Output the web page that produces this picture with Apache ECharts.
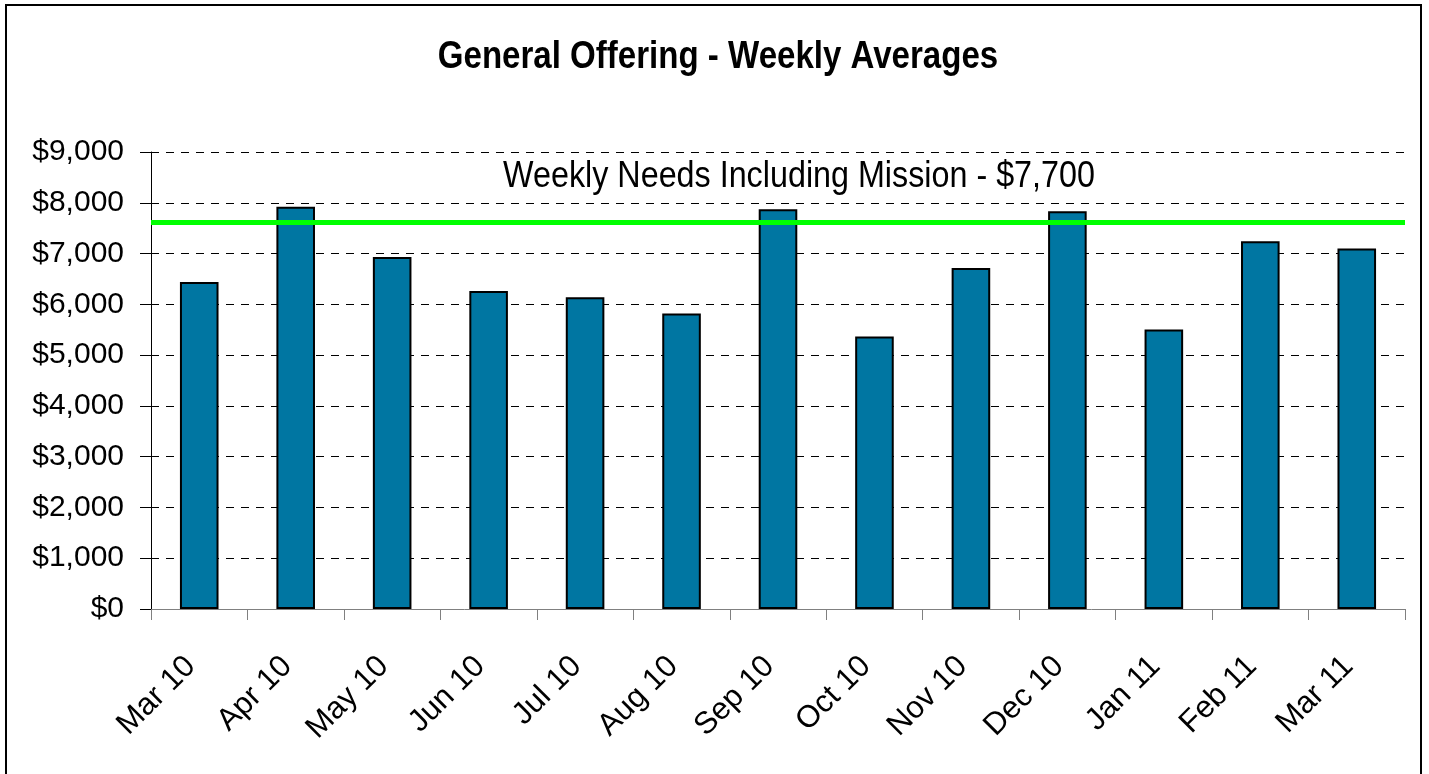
<!DOCTYPE html>
<html>
<head>
<meta charset="utf-8">
<script src="https://cdn.jsdelivr.net/npm/echarts@6/dist/echarts.min.js"></script>
<style>
  html, body { margin: 0; padding: 0; background: #fff; }
  #chart { width: 1429px; height: 774px; }
</style>
</head>
<body>
<div id="chart"></div>
<script>
// ---- Data ----
const chartTitle = 'General Offering - Weekly Averages';
const needsLabel = 'Weekly Needs Including Mission - $7,700';
const categories = ['Mar 10', 'Apr 10', 'May 10', 'Jun 10', 'Jul 10', 'Aug 10', 'Sep 10',
                    'Oct 10', 'Nov 10', 'Dec 10', 'Jan 11', 'Feb 11', 'Mar 11'];
const weeklyAverages = [6440, 7920, 6930, 6265, 6140, 5820, 7875, 5365, 6715, 7835, 5505, 7240, 7100];
const weeklyNeedsLevel = 7615;
const yMin = 0, yMax = 9000, yStep = 1000;

const chart = echarts.init(document.getElementById('chart'), null, { renderer: 'canvas' });
const sans = '"Liberation Sans", Arial, sans-serif';

chart.setOption({
  animation: false,
  backgroundColor: '#ffffff',
  graphic: [
    {
      type: 'rect', silent: true, z: 100,
      shape: { x: 6, y: 5, width: 1415, height: 800 },
      style: { fill: 'none', stroke: '#000', lineWidth: 2 }
    },
    {
      type: 'text', silent: true, z: 100,
      x: 718, y: 58, scaleX: 0.87, scaleY: 1,
      style: {
        text: chartTitle, x: 0, y: 0,
        textAlign: 'center', textVerticalAlign: 'middle',
        font: 'bold 38px "Liberation Sans", Arial, sans-serif', fill: '#000'
      }
    },
    {
      type: 'text', silent: true, z: 100,
      x: 799, y: 177, scaleX: 0.873, scaleY: 1,
      style: {
        text: needsLabel, x: 0, y: 0,
        textAlign: 'center', textVerticalAlign: 'middle',
        font: 'normal 37px "Liberation Sans", Arial, sans-serif', fill: '#000'
      }
    }
  ],
  grid: { left: 151, right: 24, top: 152, bottom: 165, containLabel: false },
  xAxis: {
    type: 'category',
    data: categories,
    boundaryGap: true,
    axisLine: { show: true, lineStyle: { color: '#808080', width: 1 } },
    axisTick: { show: true, alignWithLabel: false, length: 11, lineStyle: { color: '#808080', width: 1 } },
    axisLabel: {
      rotate: 45, margin: 44, interval: 0, padding: [0, 12, 0, 0],
      fontFamily: sans, fontSize: 31, color: '#000'
    },
    splitLine: { show: false }
  },
  yAxis: {
    type: 'value',
    min: yMin, max: yMax, interval: yStep,
    axisLine: { show: true, lineStyle: { color: '#000', width: 1 } },
    axisTick: { show: true, length: 11, lineStyle: { color: '#000', width: 1 } },
    axisLabel: {
      margin: 27, fontFamily: sans, fontSize: 30, color: '#000',
      formatter: v => '$' + v.toLocaleString('en-US')
    },
    splitLine: { show: true, lineStyle: { color: '#000', width: 1, type: [8, 7] } }
  },
  series: [{
    type: 'bar',
    data: weeklyAverages,
    barWidth: '40%',
    itemStyle: { color: '#0076A2', borderColor: '#000', borderWidth: 2 },
    markLine: {
      silent: true,
      symbol: 'none',
      label: { show: false },
      lineStyle: { color: '#00FF00', width: 5, type: 'solid' },
      data: [{ yAxis: weeklyNeedsLevel }]
    }
  }]
});
</script>
</body>
</html>
